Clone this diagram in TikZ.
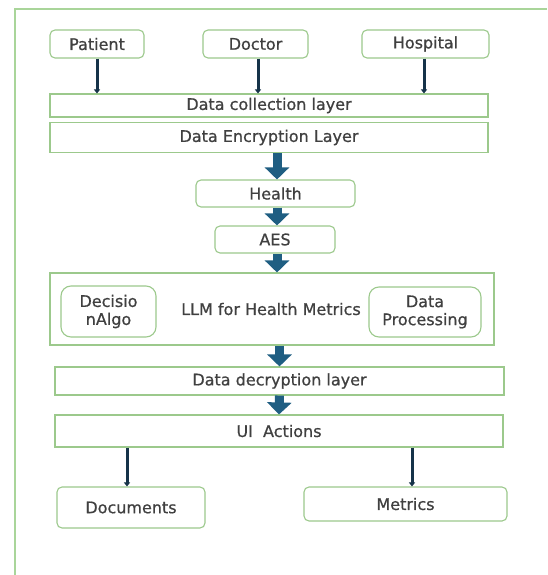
\documentclass[tikz,border=0pt]{standalone}
\usepackage{fontspec}
\setmainfont{DejaVu Sans}[BoldFont={DejaVu Sans}, BoldFeatures={FakeBold=0.7}]
\usetikzlibrary{arrows.meta}
\definecolor{framegreen}{HTML}{A9D59A}
\definecolor{boxgreen}{HTML}{9CC98C}
\definecolor{txtgray}{HTML}{404040}
\definecolor{flowblue}{HTML}{1F5E82}
\definecolor{linknavy}{HTML}{163349}
\tikzset{
  labelfont/.style={font=\fontsize{16}{18}\selectfont\bfseries},
  basebox/.style={draw=boxgreen, line width=1.1pt, fill=white, text=txtgray,
    labelfont, inner sep=0pt, align=center},
  roundbox/.style={basebox, rounded corners=5pt},
  softbox/.style={basebox, rounded corners=10pt},
  layerbox/.style={basebox},
  bigflow/.style={line width=9pt, draw=flowblue, -{Triangle[width=24pt,length=12pt]}},
  thinlink/.style={line width=3pt, draw=linknavy, -{Triangle[width=6pt,length=4pt]}}
}
\begin{document}
\begin{tikzpicture}[x=1pt, y=-1pt]
  \useasboundingbox[fill=white] (0,0) rectangle (547,575);
  % outer frame (only top and left edges are drawn)
  \draw[framegreen, line width=1.3pt] (15,575) -- (15,9) -- (547,9);

  % sources
  \node[roundbox, minimum width=94pt, minimum height=28pt] (patient) at (97,44) {Patient};
  \node[roundbox, minimum width=105pt, minimum height=28pt] (doctor) at (255.5,44) {Doctor};
  \node[roundbox, minimum width=127pt, minimum height=28pt] (hospital) at (425.5,44) {Hospital};

  % layers
  \node[layerbox, minimum width=438pt, minimum height=23pt] (collect) at (269,105.5) {Data collection layer};
  \node[layerbox, minimum width=438pt, minimum height=30pt] (encrypt) at (269,137.5) {Data Encryption Layer};

  \node[roundbox, minimum width=159pt, minimum height=27pt] (health) at (275.5,193.5) {Health};
  \node[roundbox, minimum width=120pt, minimum height=27pt] (aes) at (275,239.5) {AES};

  \node[layerbox, minimum width=444pt, minimum height=72pt] (llm) at (272,309) {};
  \node[text=txtgray, labelfont] (llmlabel) at (271,309) {LLM for Health Metrics};
  \node[softbox, minimum width=95pt, minimum height=51pt] (decision) at (108.5,311.5) {Decisio\\nAlgo};
  \node[softbox, minimum width=112pt, minimum height=50pt] (dataproc) at (425,312) {Data\\Processing};

  \node[layerbox, minimum width=449pt, minimum height=28pt] (decrypt) at (279.5,381) {Data decryption layer};
  \node[layerbox, minimum width=448pt, minimum height=32pt] (ui) at (279,431) {UI\ \ Actions};

  \node[roundbox, minimum width=148pt, minimum height=41pt] (documents) at (131,507.5) {Documents};
  \node[roundbox, minimum width=203pt, minimum height=34pt] (metrics) at (405.5,504) {Metrics};

  % thin links from sources
  \draw[thinlink] (patient.south) -- (patient.south |- collect.north);
  \draw[thinlink] ([xshift=2.5pt]doctor.south) -- ([xshift=2.5pt]doctor.south |- collect.north);
  \draw[thinlink] ([xshift=-1.5pt]hospital.south) -- ([xshift=-1.5pt]hospital.south |- collect.north);

  % main flow
  \draw[bigflow] ([xshift=1.5pt]health.north |- encrypt.south) -- ([xshift=1.5pt]health.north);
  \draw[bigflow] ([xshift=1.5pt]health.south) -- ([xshift=1.5pt]health.south |- aes.north);
  \draw[bigflow] ([xshift=2pt]aes.south) -- ([xshift=2pt]aes.south |- llm.north);
  \draw[bigflow] (decrypt.north |- llm.south) -- (decrypt.north);
  \draw[bigflow] (decrypt.south) -- (ui.north);

  % outputs
  \draw[thinlink] ([xshift=-4pt]documents.north |- ui.south) -- ([xshift=-4pt]documents.north);
  \draw[thinlink] ([xshift=6.5pt]metrics.north |- ui.south) -- ([xshift=6.5pt]metrics.north);
\end{tikzpicture}
\end{document}
